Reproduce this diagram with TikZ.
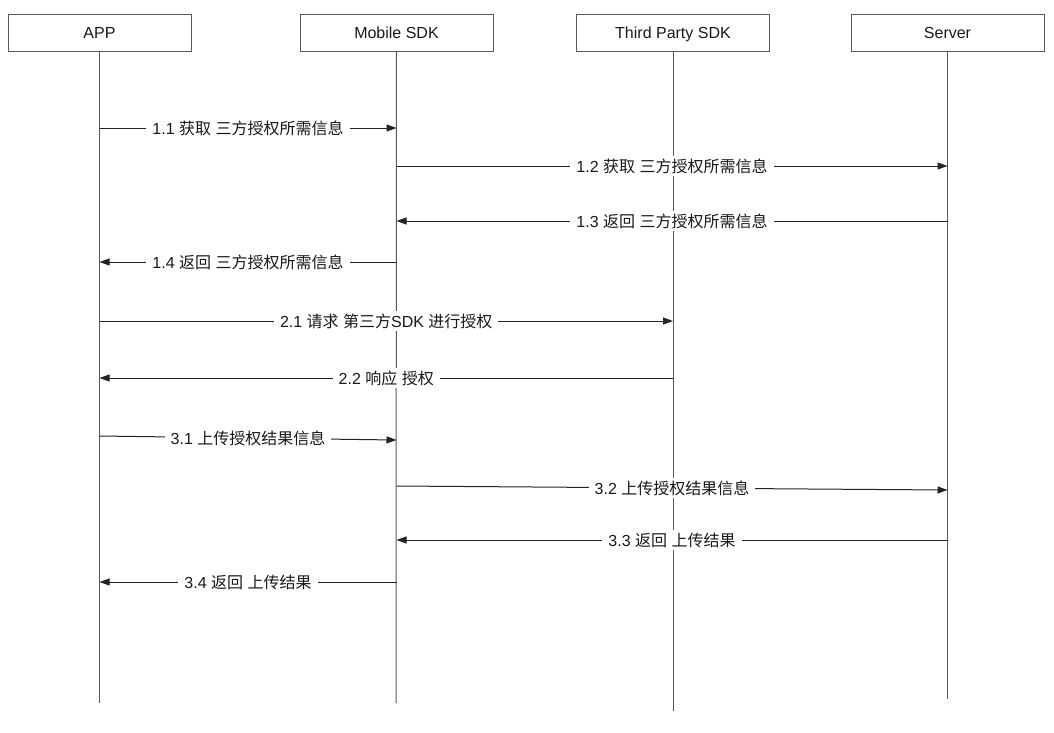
\documentclass[tikz,border=0pt]{standalone}
\usepackage{fontspec}
\setmainfont{Liberation Sans}
\newfontfamily\cjk{Noto Sans CJK SC}
\newcommand{\zh}[1]{{\cjk #1}}
\usetikzlibrary{arrows.meta}
\definecolor{lifegray}{RGB}{90,90,90}
\definecolor{msgdark}{RGB}{35,35,35}

\begin{document}
\begin{tikzpicture}[x=1pt,y=1pt]
\tikzstyle{every node}+=[font=\fontsize{16}{19}\selectfont, text=black!90]
\tikzstyle{actor}=[draw=lifegray, line width=1pt, minimum width=193pt, minimum height=37pt, inner sep=0pt, text height=11.5pt, text depth=0pt]
\tikzstyle{life}=[draw=lifegray, line width=1pt]
\tikzstyle{msg}=[draw=msgdark, line width=1pt, -{Triangle[length=10pt,width=7pt]}]
\tikzstyle{lbl}=[fill=white, inner xsep=6pt, inner ysep=3pt]
\useasboundingbox (0,0) rectangle (1054,-732);
\node [actor, minimum width=183pt] (app) at (99.5,-32.5) {APP};
\node [actor] (msdk) at (396.5,-32.5) {Mobile SDK};
\node [actor] (tpsdk) at (673,-32.5) {Third Party SDK};
\node [actor] (server) at (947.5,-32.5) {Server};
\coordinate (append) at (99.5,-703);
\coordinate (msdkend) at (396,-703);
\coordinate (tpsdkend) at (673,-711);
\coordinate (serverend) at (947.5,-699);
\draw [life] (app) -- (append);
\draw [life] (msdk) -- (msdkend);
\draw [life] (tpsdk) -- (tpsdkend);
\draw [life] (server) -- (serverend);
\draw [msg] (app |- 0,-128) -- node [lbl] {1.1 \zh{获取} \zh{三方授权所需信息}} (msdk |- 0,-128);
\draw [msg] (msdk |- 0,-166) -- node [lbl] {1.2 \zh{获取} \zh{三方授权所需信息}} (server |- 0,-166);
\draw [msg] (server |- 0,-221) -- node [lbl] {1.3 \zh{返回} \zh{三方授权所需信息}} (msdk |- 0,-221);
\draw [msg] (msdk |- 0,-262) -- node [lbl] {1.4 \zh{返回} \zh{三方授权所需信息}} (app |- 0,-262);
\draw [msg] (app |- 0,-321) -- node [lbl] {2.1 \zh{请求} \zh{第三方}SDK \zh{进行授权}} (tpsdk |- 0,-321);
\draw [msg] (tpsdk |- 0,-378) -- node [lbl] {2.2 \zh{响应} \zh{授权}} (app |- 0,-378);
\draw [msg] (app |- 0,-436) -- node [lbl] {3.1 \zh{上传授权结果信息}} (msdk |- 0,-440);
\draw [msg] (msdk |- 0,-486) -- node [lbl] {3.2 \zh{上传授权结果信息}} (server |- 0,-490);
\draw [msg] (server |- 0,-540) -- node [lbl] {3.3 \zh{返回} \zh{上传结果}} (msdk |- 0,-540);
\draw [msg] (msdk |- 0,-582) -- node [lbl] {3.4 \zh{返回} \zh{上传结果}} (app |- 0,-582);
\end{tikzpicture}
\end{document}
